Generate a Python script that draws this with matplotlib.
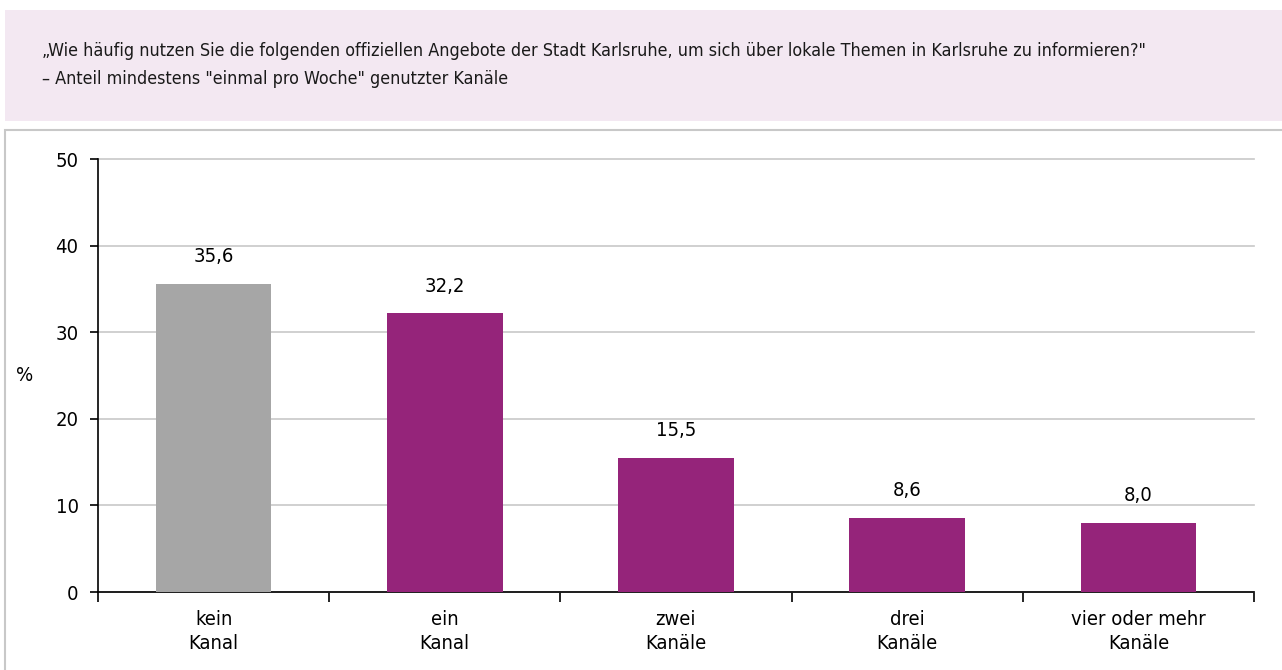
import matplotlib.pyplot as plt
from matplotlib.patches import Rectangle

categories = ["kein\nKanal", "ein\nKanal", "zwei\nKanäle", "drei\nKanäle", "vier oder mehr\nKanäle"]
values = [35.6, 32.2, 15.5, 8.6, 8.0]
value_labels = ["35,6", "32,2", "15,5", "8,6", "8,0"]
bar_colors = ["#A6A6A6", "#95247A", "#95247A", "#95247A", "#95247A"]

title = ("\u201eWie häufig nutzen Sie die folgenden offiziellen Angebote der Stadt Karlsruhe, "
         "um sich über lokale Themen in Karlsruhe zu informieren?\"\n"
         "\u2013 Anteil mindestens \"einmal pro Woche\" genutzter Kanäle")

plt.rcParams['font.family'] = ['DejaVu Sans']
plt.rcParams['font.stretch'] = 'condensed'

W, H = 1282, 670
fig = plt.figure(figsize=(W / 100, H / 100), dpi=100)

# pink header box and chart panel frame
fig.patches.append(Rectangle((5 / W, 1 - 121 / H), 1.0, 111 / H, transform=fig.transFigure,
                             facecolor="#F3E8F2", edgecolor="none"))
fig.patches.append(Rectangle((5 / W, -0.01), 1.0, 1 - 130 / H + 0.01, transform=fig.transFigure,
                             facecolor="none", edgecolor="#C8C8C8", lw=1.5))
fig.text(42 / W, 1 - 42 / H, title, fontsize=12.9, va="top", ha="left", linespacing=1.7,
         color="#1A1A1A")

ax = fig.add_axes([98 / W, 1 - 592 / H, (1254 - 98) / W, (592 - 159) / H])
x = range(len(categories))
ax.bar(x, values, width=0.5, color=bar_colors, zorder=3)
for xi, v, lab in zip(x, values, value_labels):
    ax.text(xi, v + 2.0, lab, ha="center", va="bottom", fontsize=14.5)

ax.set_xlim(-0.5, len(categories) - 0.5)
ax.set_ylim(0, 50)
ax.set_yticks(range(0, 51, 10))
ax.yaxis.grid(True, color="#C8C8C8", lw=1.2, zorder=0)
for gl in ax.get_ygridlines():
    gl.set_clip_on(False)
ax.set_xticks(x)
ax.set_xticklabels(categories, fontsize=14.5, linespacing=1.35)
ax.tick_params(axis="x", length=0, pad=13)
ax.set_xticks([i - 0.5 for i in range(len(categories) + 1)], minor=True)
ax.tick_params(axis="x", which="minor", length=7, width=1.2, direction="out")
ax.tick_params(axis="y", labelsize=14.5, length=6, width=1.2, pad=8)
ax.spines[['right', 'top']].set_visible(False)
ax.spines['left'].set_linewidth(1.2)
ax.spines['bottom'].set_linewidth(1.2)
ax.set_ylabel("%", rotation=0, fontsize=14.5, labelpad=22, va="center")

fig.savefig("out.png", dpi=100)
